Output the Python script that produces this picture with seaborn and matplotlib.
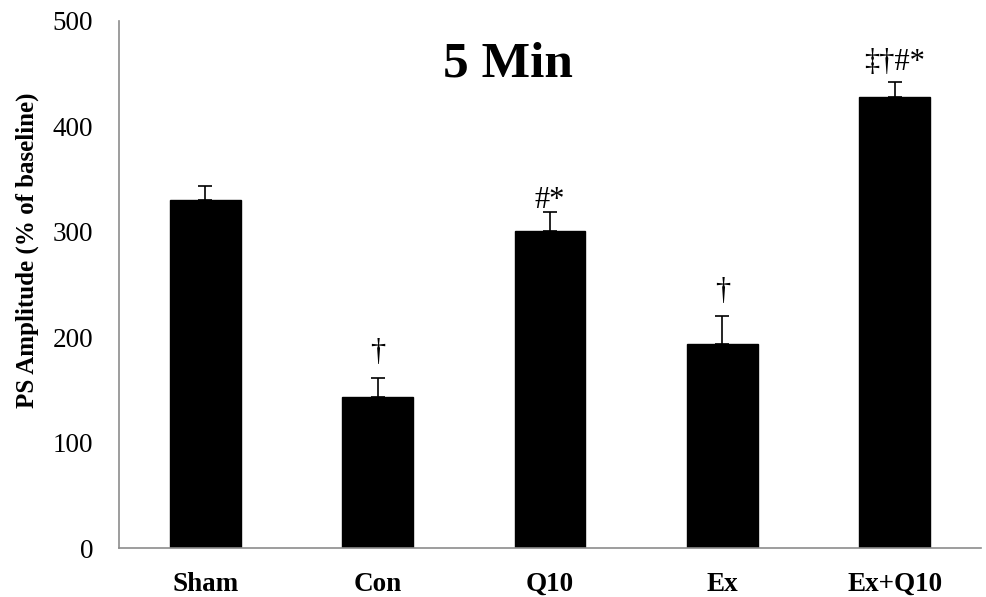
import matplotlib
matplotlib.use("Agg")
import matplotlib.pyplot as plt
import seaborn as sns
import numpy as np
import pandas as pd

categories = ["Sham", "Con", "Q10", "Ex", "Ex+Q10"]
means = [330, 143, 301, 194, 428]
errors = [13, 18, 18, 26, 14]
marks = ["", "\u2020", "#*", "\u2020", "\u2021\u2020#*"]
yticks = [0, 100, 200, 300, 400, 500]

# vertical gap (points) between each error-bar cap and its significance mark
mark_gap_pt = [0, 13, 3, 12, 9]

sns.set_theme(style="white")
plt.rcParams["font.family"] = ["Liberation Serif", "DejaVu Serif"]
plt.rcParams["text.color"] = "black"
plt.rcParams["axes.labelcolor"] = "black"
plt.rcParams["xtick.color"] = "black"
plt.rcParams["ytick.color"] = "black"

fig = plt.figure(figsize=(9.87, 5.97), dpi=100)
ax = fig.add_axes([119 / 987, 1 - 548 / 597, (981 - 119) / 987, (548 - 21) / 597])

df = pd.DataFrame({"group": categories, "value": means})
sns.barplot(data=df, x="group", y="value", color="black", width=0.41,
            saturation=1, ax=ax, errorbar=None)
for p in ax.patches:
    p.set_edgecolor("black")

xs = np.arange(len(categories))
ax.errorbar(xs, means, yerr=[np.zeros(len(errors)), errors], fmt="none",
            ecolor="black", elinewidth=1.2, capsize=5, capthick=1.2)

for x, m, e, t, g in zip(xs, means, errors, marks, mark_gap_pt):
    if t:
        ax.annotate(t, (x, m + e), xytext=(0, g), textcoords="offset points",
                    ha="center", va="baseline", fontsize=22, color="black")

ax.set_xlim(-0.5, 4.5)
ax.set_ylim(0, 500)
ax.set_yticks(yticks)
ax.set_yticklabels([str(v) for v in yticks], fontsize=19.5)
ax.set_xticks(xs)
ax.set_xticklabels(categories, fontsize=19.5, fontweight="bold")
ax.set_xticks(np.arange(-0.5, 5, 1), minor=True)
ax.tick_params(axis="x", which="major", length=0, pad=17)
ax.tick_params(axis="x", which="minor", length=7, width=1, color="#8c8c8c", direction="out")
ax.tick_params(axis="y", which="major", length=6.5, width=1, color="#8c8c8c",
               direction="out", pad=12)
ax.set_xlabel("")
ax.set_ylabel("PS Amplitude (% of baseline)", fontsize=18, fontweight="bold")
ax.yaxis.set_label_coords(-0.093, 0.565)

for s in ["top", "right"]:
    ax.spines[s].set_visible(False)
for s in ["left", "bottom"]:
    ax.spines[s].set_color("#8c8c8c")
    ax.spines[s].set_linewidth(1.2)

ax.text(0.451, 0.894, "5 Min", transform=ax.transAxes, ha="center", va="baseline",
        fontsize=37, fontweight="bold")

fig.savefig("out.png", dpi=100)
